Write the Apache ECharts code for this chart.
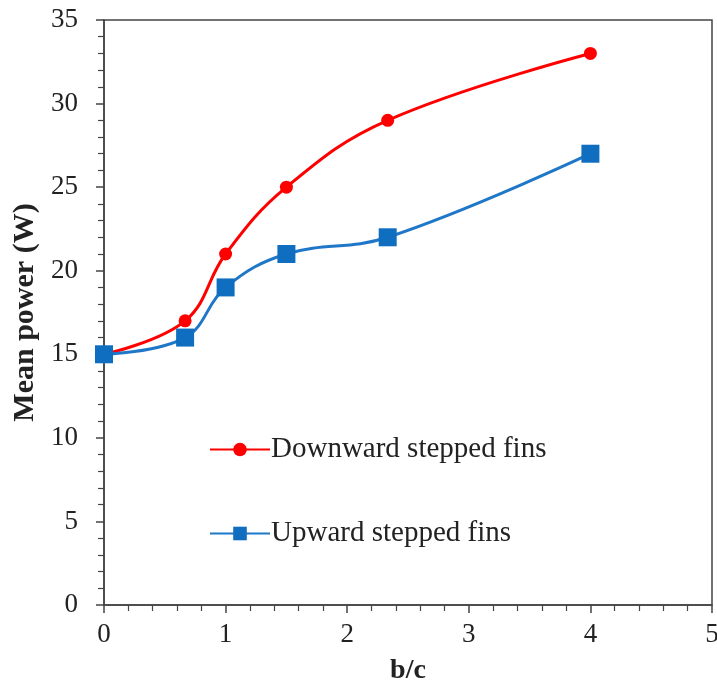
<!DOCTYPE html>
<html><head><meta charset="utf-8">
<script src="https://cdn.jsdelivr.net/npm/echarts@6/dist/echarts.min.js"></script>
<style>html,body{margin:0;padding:0;background:#fff}#c{width:717px;height:690px}</style>
</head><body><div id="c"></div>
<script>
const xValues = [0, 0.667, 1, 1.5, 2.333, 4];
const downward = [15, 17, 21, 25, 29, 33];
const upward = [15, 16, 19, 21, 22, 27];
const seriesNames = ['Downward stepped fins', 'Upward stepped fins'];

const chart = echarts.init(document.getElementById('c'));
const font = 'Liberation Serif, Times New Roman, serif';
const axisCommon = {
  axisLine: {show: true, lineStyle: {color: '#444', width: 1.5}},
  axisTick: {show: true, length: 8, lineStyle: {color: '#444', width: 1.5}},
  minorTick: {show: true, splitNumber: 5, length: 6, lineStyle: {color: '#444', width: 1.2}},
  splitLine: {show: false},
  axisLabel: {fontFamily: font, fontSize: 27, color: '#222', margin: 16},
  nameTextStyle: {fontFamily: font, fontSize: 28, fontWeight: 'bold', color: '#222'}
};
chart.setOption({
  animation: false,
  grid: {left: 104, right: 5, top: 20, bottom: 85, show: true, borderColor: '#444', borderWidth: 1.5,
         outerBoundsMode: 'none', containLabel: false},
  xAxis: Object.assign({}, axisCommon, {
    type: 'value', min: 0, max: 5, interval: 1,
    name: 'b/c', nameLocation: 'middle', nameGap: 52
  }),
  yAxis: Object.assign({}, axisCommon, {
    type: 'value', min: 0, max: 35, interval: 5,
    name: 'Mean power (W)', nameLocation: 'middle', nameGap: 54,
    nameTextStyle: {fontFamily: font, fontSize: 30, fontWeight: 'bold', color: '#222'},
    axisLabel: {fontFamily: font, fontSize: 27, color: '#222', margin: 26}
  }),
  legend: {
    orient: 'vertical', left: 204, top: 430, itemGap: 55, itemWidth: 60, itemHeight: 17,
    textStyle: {fontFamily: font, fontSize: 29, color: '#222', padding: [0,0,0,-4]},
    data: seriesNames
  },
  series: [
    {
      name: seriesNames[0], type: 'line', smooth: 0.4,
      data: xValues.map((x, i) => [x, downward[i]]),
      symbol: 'circle', symbolSize: 13,
      lineStyle: {color: '#FF0000', width: 3}, itemStyle: {color: '#FF0000'}, z: 2
    },
    {
      name: seriesNames[1], type: 'line', smooth: 0.4,
      data: xValues.map((x, i) => [x, upward[i]]),
      symbol: 'rect', symbolSize: 18,
      lineStyle: {color: '#1F77C8', width: 3}, itemStyle: {color: '#0F6EBF'}, z: 3
    }
  ]
});
</script></body></html>
